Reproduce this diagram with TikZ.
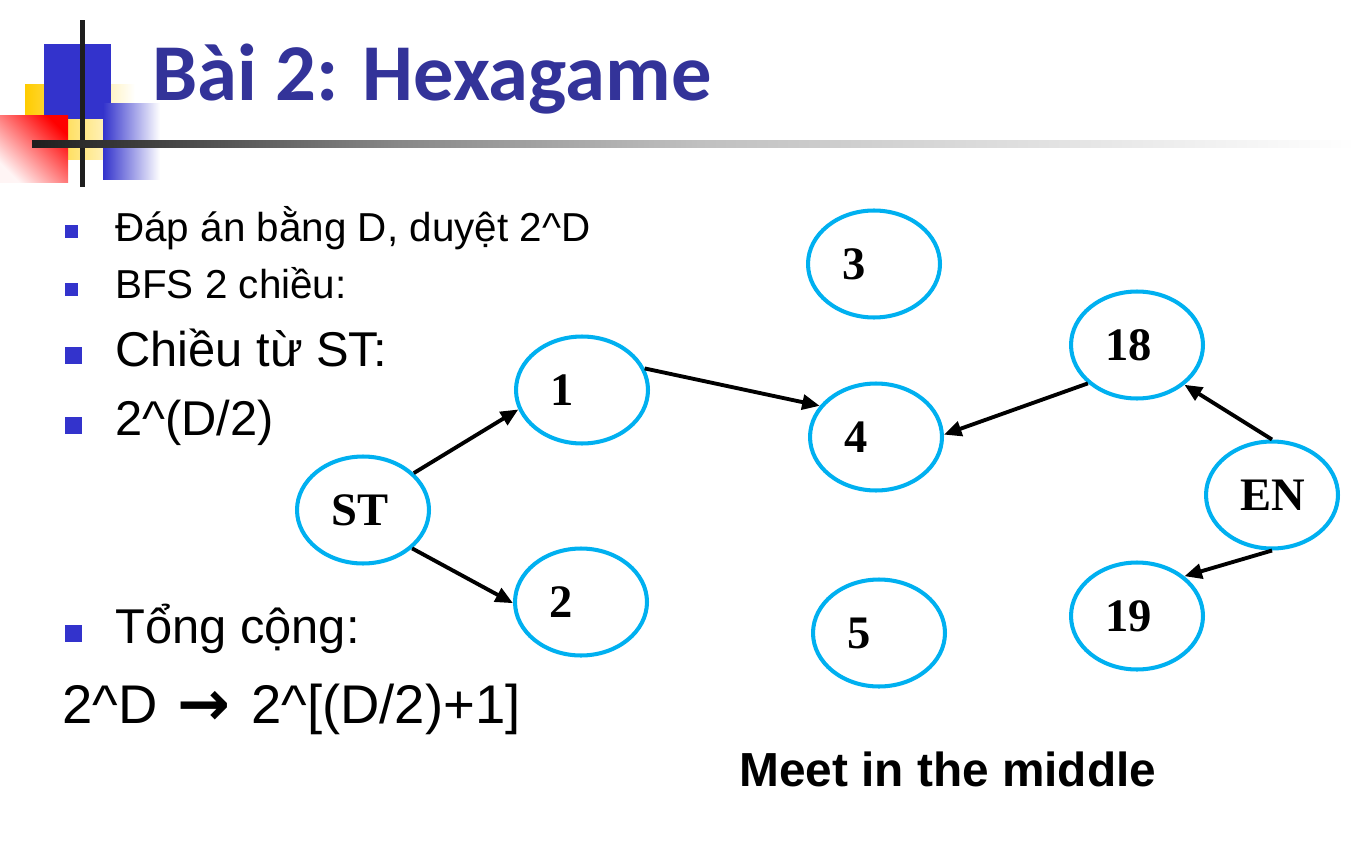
\documentclass[tikz,border=0pt]{standalone}
\usepackage{fontspec}
\setmainfont{Liberation Sans}
\newfontfamily\titlefont{Carlito}
\newfontfamily\nodefont{Liberation Serif}
\newfontfamily\symfont{DejaVu Sans}
\usetikzlibrary{shapes.geometric,arrows.meta}

\definecolor{titleblue}{RGB}{51,51,153}
\definecolor{bulletblue}{RGB}{51,51,204}
\definecolor{decoyellow}{RGB}{255,204,0}
\definecolor{ringblue}{RGB}{0,176,240}
\definecolor{barA}{RGB}{30,30,30}
\definecolor{barB}{RGB}{136,136,136}
\definecolor{barC}{RGB}{192,192,192}

% rule under the title: dark on the left, fading to white on the right
\pgfdeclarehorizontalshading{barfade}{100bp}{%
  color(0bp)=(barA); color(25bp)=(barA); color(38.7bp)=(barB);
  color(49.9bp)=(barC); color(74.4bp)=(white); color(100bp)=(white)}

\tikzset{
  state/.style={ellipse, draw=ringblue, line width=2.3pt,
    minimum width=2.64cm, minimum height=2.14cm, inner sep=0pt},
  statelabel/.style={anchor=west, inner sep=0pt, xshift=0.72cm,
    font=\nodefont\bfseries\fontsize{26.5}{30}\selectfont},
  link/.style={-{Triangle[length=10pt,width=8.5pt]}, line width=2.2pt},
  smallbullet/.style={fill=bulletblue, inner sep=0pt, minimum size=0.26cm},
  bigbullet/.style={fill=bulletblue, inner sep=0pt, minimum size=0.34cm},
  smalltext/.style={anchor=base west, inner sep=0pt,
    font=\fontsize{23}{27}\selectfont},
  bigtext/.style={anchor=base west, inner sep=0pt,
    font=\fontsize{27.8}{32}\selectfont},
}

\begin{document}
\begin{tikzpicture}[x=0.02cm, y=-0.02cm]
\useasboundingbox (0,0) rectangle (1372,858);

% corner ornament
\shade[left color=decoyellow, middle color=decoyellow, right color=white]
  (25,85) rectangle (135,160);
\fill[bulletblue] (44,44) rectangle (111,119);
\shade[top color=red, bottom color=red!4, shading angle=-45]
  (0,116) rectangle (68,183);
\shade[left color=bulletblue, right color=white] (103,104) rectangle (160,180);
\fill[barA] (80,20) rectangle (85,187);
\shade[shading=barfade] (32,141) rectangle (1372,148);

% title
\node[anchor=base west, inner sep=0pt, text=titleblue,
  font=\titlefont\bfseries\fontsize{45.9}{52}\selectfont]
  (title) at (152,101) {Bài 2: Hexagame};

% bullet list
\node[smallbullet] (b1) at (71.5,231.5) {};
\node[smalltext] (t1) at (115,241) {Đáp án bằng D, duyệt 2\textasciicircum D};
\node[smallbullet] (b2) at (71.5,289.5) {};
\node[smalltext] (t2) at (115,298) {BFS 2 chiều:};
\node[bigbullet] (b3) at (73.5,355.5) {};
\node[bigtext] (t3) at (115,366) {Chiều từ ST:};
\node[bigbullet] (b4) at (73.5,425.5) {};
\node[bigtext] (t4) at (115,435) {2\textasciicircum(D/2)};
\node[bigbullet] (b5) at (73.5,633.5) {};
\node[bigtext] (t5) at (115,643) {Tổng cộng:};
\node[anchor=base west, inner sep=0pt, font=\fontsize{31}{36}\selectfont]
  (t6) at (62,723)
  {2\textasciicircum D\hspace{3pt} \raisebox{-1.5pt}{\symfont\bfseries\fontsize{36}{36}\selectfont →}\hspace{3pt} 2\textasciicircum[(D/2)+1]};

% search graph
\node[state] (ST)  at (363,510) {};
\node[state] (n1)  at (582,390) {};
\node[state] (n2)  at (581,602) {};
\node[state] (n3)  at (874,264) {};
\node[state] (n4)  at (876,437) {};
\node[state] (n5)  at (879,633) {};
\node[state] (n18) at (1137,345) {};
\node[state] (EN)  at (1272,495) {};
\node[state] (n19) at (1137,616) {};

\node[statelabel] (lST)  at (ST.west)  {ST};
\node[statelabel] (l1)   at (n1.west)  {1};
\node[statelabel] (l2)   at (n2.west)  {2};
\node[statelabel] (l3)   at (n3.west)  {3};
\node[statelabel] (l4)   at (n4.west)  {4};
\node[statelabel] (l5)   at (n5.west)  {5};
\node[statelabel] (l18)  at (n18.west) {18};
\node[statelabel] (lEN)  at (EN.west)  {EN};
\node[statelabel] (l19)  at (n19.west) {19};

\draw[link] (ST.36)   -- (n1.197);
\draw[link] (ST.322)  -- (n2.181);
\draw[link] (n1.19)   -- (n4.151);
\draw[link] (n18.218) -- (n4.2);
\draw[link] (EN.90)   -- (n18.320);
\draw[link] (EN.270)  -- (n19.40);

\node[anchor=base west, inner sep=0pt, font=\bfseries\fontsize{27.2}{31}\selectfont]
  (caption) at (739,786) {Meet in the middle};
\end{tikzpicture}
\end{document}
